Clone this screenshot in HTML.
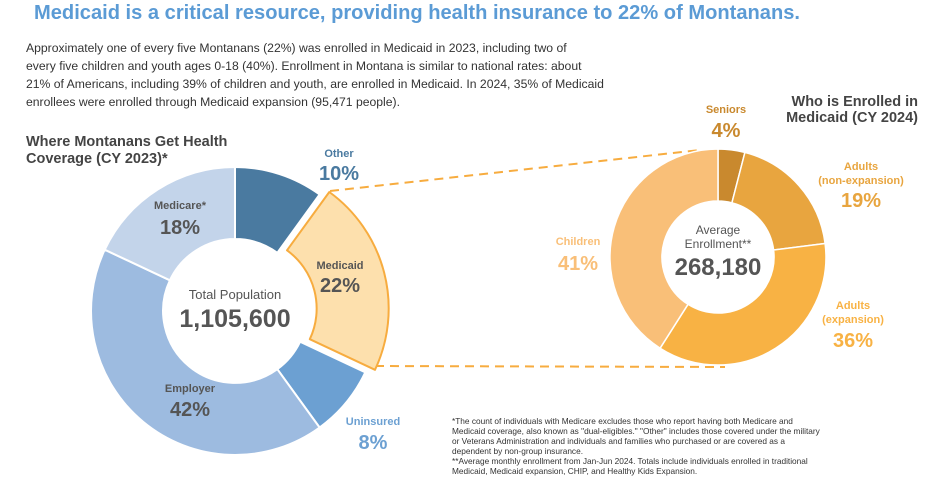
<!DOCTYPE html>
<html><head><meta charset="utf-8"><style>
body{margin:0;width:935px;height:479px;background:#fff;overflow:hidden;font-family:"Liberation Sans",sans-serif;}
svg{position:absolute;left:0;top:0}
</style></head><body>
<svg width="935" height="479" viewBox="0 0 935 479" font-family="Liberation Sans, sans-serif">
<text x="34" y="19" font-size="20" font-weight="bold" fill="#5b9bd5" textLength="766" lengthAdjust="spacingAndGlyphs">Medicaid is a critical resource, providing health insurance to 22% of Montanans.</text>
<g font-size="12.2" fill="#333">
<text x="26" y="52">Approximately one of every five Montanans (22%) was enrolled in Medicaid in 2023, including two of</text>
<text x="26" y="70">every five children and youth ages 0-18 (40%). Enrollment in Montana is similar to national rates: about</text>
<text x="26" y="88">21% of Americans, including 39% of children and youth, are enrolled in Medicaid. In 2024, 35% of Medicaid</text>
<text x="26" y="106">enrollees were enrolled through Medicaid expansion (95,471 people).</text>
</g>
<text x="26" y="146" font-size="14.5" font-weight="bold" fill="#444">Where Montanans Get Health</text>
<text x="26" y="163" font-size="14.5" font-weight="bold" fill="#444">Coverage (CY 2023)*</text>
<text x="918" y="106" font-size="14.5" font-weight="bold" fill="#444" text-anchor="end">Who is Enrolled in</text>
<text x="918" y="122" font-size="14.5" font-weight="bold" fill="#444" text-anchor="end">Medicaid (CY 2024)</text>

<line x1="330" y1="191" x2="700" y2="150" stroke="#f7ac3f" stroke-width="2" stroke-dasharray="9,6"/>
<line x1="375" y1="366" x2="725" y2="367" stroke="#f7ac3f" stroke-width="2" stroke-dasharray="9,6"/>

<g stroke="#fff" stroke-width="2">
<path d="M235,167 A144,144 0 0 1 319.6,194.5 L277.3,252.8 A72,72 0 0 0 235,239 Z" fill="#4a7aa0"/>
<path d="M365.3,372.3 A144,144 0 0 1 319.6,427.5 L277.3,369.2 A72,72 0 0 0 300.1,341.7 Z" fill="#6ca0d2"/>
<path d="M319.6,427.5 A144,144 0 0 1 104.7,249.7 L169.9,280.3 A72,72 0 0 0 277.3,369.2 Z" fill="#9dbbe0"/>
<path d="M104.7,249.7 A144,144 0 0 1 235,167 L235,239 A72,72 0 0 0 169.9,280.3 Z" fill="#c3d4ea"/>
</g>
<path d="M329.3,192 A144,144 0 0 1 375,369.8 L309.8,339.2 A72,72 0 0 0 287,250.3 Z" fill="#fde0ad" stroke="#f7ac3f" stroke-width="2" stroke-linejoin="round"/>

<text x="235" y="299" font-size="13" fill="#555" text-anchor="middle">Total Population</text>
<text x="235" y="327" font-size="25" font-weight="bold" fill="#555" text-anchor="middle">1,105,600</text>
<text x="339" y="157" font-size="11" font-weight="bold" fill="#4a7aa0" text-anchor="middle">Other</text>
<text x="339" y="180" font-size="20" font-weight="bold" fill="#4a7aa0" text-anchor="middle">10%</text>
<text x="180" y="209" font-size="11" font-weight="bold" fill="#555" text-anchor="middle">Medicare*</text>
<text x="180" y="234" font-size="20" font-weight="bold" fill="#555" text-anchor="middle">18%</text>
<text x="340" y="269" font-size="11" font-weight="bold" fill="#555" text-anchor="middle">Medicaid</text>
<text x="340" y="292" font-size="20" font-weight="bold" fill="#555" text-anchor="middle">22%</text>
<text x="190" y="392" font-size="11" font-weight="bold" fill="#555" text-anchor="middle">Employer</text>
<text x="190" y="416" font-size="20" font-weight="bold" fill="#555" text-anchor="middle">42%</text>
<text x="373" y="425" font-size="11" font-weight="bold" fill="#6ca0d2" text-anchor="middle">Uninsured</text>
<text x="373" y="449" font-size="20" font-weight="bold" fill="#6ca0d2" text-anchor="middle">8%</text>

<g stroke="#fff" stroke-width="1.5">
<path d="M718,149 A108,108 0 0 1 744.9,152.4 L731.9,202.8 A56,56 0 0 0 718,201 Z" fill="#c9892e"/>
<path d="M744.9,152.4 A108,108 0 0 1 825.1,243.5 L773.6,250 A56,56 0 0 0 731.9,202.8 Z" fill="#e8a53f"/>
<path d="M825.1,243.5 A108,108 0 0 1 660.1,348.2 L688,304.3 A56,56 0 0 0 773.6,250 Z" fill="#f8b244"/>
<path d="M660.1,348.2 A108,108 0 0 1 718,149 L718,201 A56,56 0 0 0 688,304.3 Z" fill="#f9bf78"/>
</g>
<text x="718" y="234" font-size="12" fill="#555" text-anchor="middle">Average</text>
<text x="718" y="248" font-size="12" fill="#555" text-anchor="middle">Enrollment**</text>
<text x="718" y="275" font-size="24" font-weight="bold" fill="#555" text-anchor="middle">268,180</text>
<text x="726" y="113" font-size="11" font-weight="bold" fill="#c9892e" text-anchor="middle">Seniors</text>
<text x="726" y="137" font-size="20" font-weight="bold" fill="#c9892e" text-anchor="middle">4%</text>
<text x="861" y="170" font-size="11" font-weight="bold" fill="#e8a53f" text-anchor="middle">Adults</text>
<text x="861" y="184" font-size="11" font-weight="bold" fill="#e8a53f" text-anchor="middle">(non-expansion)</text>
<text x="861" y="207" font-size="20" font-weight="bold" fill="#e8a53f" text-anchor="middle">19%</text>
<text x="578" y="245" font-size="11" font-weight="bold" fill="#f9bf78" text-anchor="middle">Children</text>
<text x="578" y="270" font-size="20" font-weight="bold" fill="#f9bf78" text-anchor="middle">41%</text>
<text x="853" y="309" font-size="11" font-weight="bold" fill="#f8b244" text-anchor="middle">Adults</text>
<text x="853" y="323" font-size="11" font-weight="bold" fill="#f8b244" text-anchor="middle">(expansion)</text>
<text x="853" y="347" font-size="20" font-weight="bold" fill="#f8b244" text-anchor="middle">36%</text>

<g font-size="8.3" fill="#333">
<text x="452" y="424">*The count of individuals with Medicare excludes those who report having both Medicare and</text>
<text x="452" y="434">Medicaid coverage, also known as "dual-eligibles." "Other" includes those covered under the military</text>
<text x="452" y="444">or Veterans Administration and individuals and families who purchased or are covered as a</text>
<text x="452" y="454">dependent by non-group insurance.</text>
<text x="452" y="464">**Average monthly enrollment from Jan-Jun 2024. Totals include individuals enrolled in traditional</text>
<text x="452" y="474">Medicaid, Medicaid expansion, CHIP, and Healthy Kids Expansion.</text>
</g>
</svg>
</body></html>
